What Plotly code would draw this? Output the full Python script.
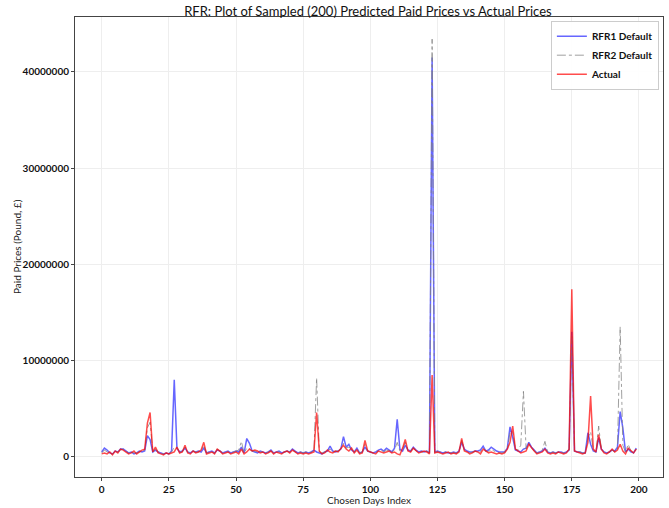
import plotly.graph_objects as go

idx = list(range(200))

# values in millions of pounds
actual_m = [
    0.3, 0.4, 0.3, 0.5, 0.2, 0.6, 0.4, 0.8, 0.7, 0.5,
    0.3, 0.4, 0.6, 0.3, 0.5, 0.7, 0.8, 3.5, 4.6, 0.5,
    1.0, 0.4, 0.3, 0.2, 0.4, 0.3, 0.4, 0.5, 1.0, 0.4,
    0.5, 1.2, 0.4, 0.3, 0.6, 0.4, 0.5, 0.7, 1.5, 0.3,
    0.4, 0.5, 0.3, 0.8, 0.6, 0.3, 0.4, 0.5, 0.3, 0.4,
    0.5, 0.3, 0.8, 0.3, 0.5, 0.8, 0.6, 0.7, 0.6, 0.4,
    0.5, 0.3, 0.4, 0.6, 0.3, 0.5, 0.4, 0.3, 0.5, 0.6,
    0.4, 0.7, 0.5, 0.3, 0.4, 0.3, 0.4, 0.3, 0.4, 0.5,
    4.6, 0.6, 0.3, 0.4, 0.7, 0.5, 0.4, 0.6, 0.5, 0.9,
    1.2, 0.8, 0.6, 0.9, 0.4, 0.7, 0.3, 0.4, 1.7, 0.6,
    0.5, 0.4, 0.3, 0.6, 0.5, 0.4, 0.5, 0.6, 0.4, 0.5,
    0.3, 0.2, 0.9, 1.8, 0.6, 0.5, 0.9, 0.6, 0.4, 0.5,
    0.6, 0.5, 0.3, 8.5, 0.4, 0.5, 0.4, 0.3, 0.4, 0.5,
    0.3, 0.4, 0.3, 0.5, 1.9, 0.6, 0.5, 0.3, 0.4, 0.6,
    0.5, 0.3, 0.8, 0.6, 0.4, 0.5, 0.4, 0.3, 0.4, 0.3,
    0.4, 0.8, 1.5, 3.2, 0.8, 0.6, 0.4, 0.5, 0.6, 1.3,
    0.9, 0.6, 0.3, 0.4, 0.5, 0.8, 0.4, 0.3, 0.4, 0.3,
    0.5, 0.4, 0.3, 0.4, 0.8, 17.4, 0.6, 0.5, 0.4, 0.3,
    0.4, 1.5, 6.3, 0.8, 0.5, 2.3, 0.8, 0.4, 0.3, 0.5,
    0.8, 0.5, 0.7, 1.3, 0.6, 0.3, 0.9, 0.6, 0.4, 0.8,
]

rfr1_m = [
    0.5, 0.9, 0.7, 0.4, 0.3, 0.6, 0.5, 0.8, 0.8, 0.6,
    0.4, 0.5, 0.3, 0.4, 0.6, 0.5, 0.6, 2.2, 1.8, 0.5,
    0.7, 0.5, 0.4, 0.3, 0.4, 0.3, 0.6, 8.0, 0.9, 0.5,
    0.6, 0.9, 0.5, 0.4, 0.6, 0.5, 0.6, 0.5, 0.9, 0.4,
    0.5, 0.6, 0.4, 0.7, 0.6, 0.4, 0.5, 0.6, 0.4, 0.5,
    0.6, 0.5, 1.0, 0.4, 1.9, 1.4, 0.6, 0.5, 0.4, 0.6,
    0.5, 0.4, 0.5, 0.7, 0.4, 0.5, 0.6, 0.4, 0.5, 0.6,
    0.5, 0.8, 0.6, 0.4, 0.5, 0.4, 0.5, 0.4, 0.5, 0.7,
    0.5, 0.4, 0.3, 0.5, 0.6, 1.1, 0.6, 0.5, 0.6, 0.8,
    2.1, 1.0, 1.3, 0.7, 0.5, 0.9, 0.4, 0.5, 1.0, 0.6,
    0.5, 0.4, 0.5, 0.7, 0.8, 0.6, 0.9, 0.7, 0.5, 0.9,
    3.9, 0.8, 0.6, 1.2, 0.7, 0.6, 1.0, 0.7, 0.5, 0.6,
    0.5, 0.6, 0.4, 41.5, 0.5, 0.6, 0.5, 0.4, 0.5, 0.4,
    0.4, 0.5, 0.4, 0.6, 1.5, 0.8, 0.6, 0.5, 0.5, 0.6,
    0.6, 0.7, 1.1, 0.6, 0.7, 1.0, 0.8, 0.6, 0.5, 0.5,
    0.5, 0.9, 3.1, 2.0, 0.7, 0.6, 0.5, 0.8, 0.9, 1.5,
    1.0, 0.7, 0.4, 0.5, 0.6, 0.9, 0.5, 0.4, 0.5, 0.4,
    0.5, 0.5, 0.4, 0.5, 0.7, 13.0, 0.6, 0.5, 0.5, 0.4,
    0.4, 2.5, 1.3, 0.6, 0.5, 2.0, 0.8, 0.5, 0.4, 0.5,
    0.7, 0.6, 1.0, 4.7, 3.0, 0.5, 0.8, 0.5, 0.4, 0.9,
]

rfr2_m = [
    0.4, 0.7, 0.5, 0.4, 0.3, 0.6, 0.5, 0.7, 0.8, 0.6,
    0.4, 0.5, 0.4, 0.4, 0.5, 0.6, 0.7, 3.0, 3.6, 0.5,
    0.8, 0.5, 0.4, 0.3, 0.4, 0.3, 0.5, 1.0, 0.9, 0.5,
    0.5, 1.0, 0.5, 0.4, 0.6, 0.5, 0.5, 0.6, 1.2, 0.4,
    0.5, 0.5, 0.4, 0.8, 0.6, 0.4, 0.5, 0.5, 0.4, 0.5,
    0.6, 0.7, 1.6, 0.4, 0.9, 0.8, 0.6, 0.6, 0.5, 0.5,
    0.5, 0.4, 0.5, 0.6, 0.4, 0.5, 0.5, 0.4, 0.5, 0.6,
    0.5, 0.7, 0.5, 0.4, 0.5, 0.4, 0.5, 0.4, 0.5, 0.6,
    8.2, 0.5, 0.4, 0.5, 0.6, 0.8, 0.5, 0.6, 0.6, 0.8,
    1.4, 0.9, 1.0, 0.8, 0.5, 0.8, 0.4, 0.5, 1.3, 0.6,
    0.5, 0.4, 0.4, 0.6, 0.7, 0.5, 0.7, 0.6, 0.5, 0.7,
    1.5, 0.6, 0.8, 1.5, 0.7, 0.6, 0.9, 0.6, 0.5, 0.5,
    0.5, 0.6, 0.4, 43.4, 0.5, 0.5, 0.5, 0.4, 0.5, 0.4,
    0.4, 0.4, 0.4, 0.5, 1.7, 0.7, 0.5, 0.4, 0.5, 0.6,
    0.5, 0.5, 0.9, 0.6, 0.5, 0.8, 0.6, 0.5, 0.4, 0.4,
    0.5, 0.9, 2.5, 2.6, 0.8, 0.7, 1.2, 6.8, 0.8, 1.4,
    0.9, 0.6, 0.4, 0.5, 0.7, 1.6, 0.5, 0.4, 0.5, 0.4,
    0.5, 0.5, 0.4, 0.5, 0.7, 12.5, 0.6, 0.5, 0.5, 0.4,
    0.4, 2.0, 2.6, 0.7, 0.5, 3.2, 0.8, 0.5, 0.4, 0.5,
    0.7, 0.5, 0.8, 13.5, 1.2, 0.5, 1.3, 0.6, 0.4, 0.8,
]

actual = [v * 1e6 for v in actual_m]
rfr1 = [v * 1e6 for v in rfr1_m]
rfr2 = [v * 1e6 for v in rfr2_m]

x_ticks = [0, 25, 50, 75, 100, 125, 150, 175, 200]
y_ticks = [0, 10000000, 20000000, 30000000, 40000000]

FONT = "Lato, 'Open Sans', sans-serif"

fig = go.Figure()
fig.add_trace(go.Scatter(x=idx, y=rfr1, mode="lines", name="RFR1 Default",
                         line=dict(color="rgba(0,0,255,0.6)", width=1.5)))
fig.add_trace(go.Scatter(x=idx, y=rfr2, mode="lines", name="RFR2 Default",
                         line=dict(color="rgba(128,128,128,0.75)", width=1, dash="dashdot")))
fig.add_trace(go.Scatter(x=idx, y=actual, mode="lines", name="Actual",
                         line=dict(color="rgba(255,0,0,0.7)", width=1.5)))

fig.update_layout(
    width=669, height=508,
    margin=dict(l=75, r=6, t=17, b=31),
    paper_bgcolor="white", plot_bgcolor="white",
    font=dict(family=FONT, color="#222", size=10),
    title=dict(text="RFR: Plot of Sampled (200) Predicted Paid Prices vs Actual Prices",
               x=0.55, xanchor="center", y=0.986, yanchor="top",
               font=dict(size=13, family=FONT, color="#111"),
               automargin=False),
    legend=dict(x=0.993, y=0.992, xanchor="right", yanchor="top",
                bgcolor="rgba(255,255,255,0.9)", bordercolor="#ccc", borderwidth=1,
                font=dict(size=10, family=FONT, weight="bold", color="#111"),
                tracegroupgap=0),
    showlegend=True,
    annotations=[
        dict(text="Paid Prices (Pound, £)", xref="paper", yref="paper",
             x=0, y=0.5, xshift=-58, textangle=-90, showarrow=False,
             xanchor="center", yanchor="middle",
             font=dict(size=10, family=FONT, color="#222")),
        dict(text="Chosen Days Index", xref="paper", yref="paper",
             x=0.5, y=0, yshift=-23, showarrow=False,
             xanchor="center", yanchor="middle",
             font=dict(size=10, family=FONT, color="#222")),
    ],
)
fig.update_xaxes(range=[-9.95, 208.95], tickvals=x_ticks, automargin=False,
                 showgrid=True, gridcolor="#eeeeee", gridwidth=1,
                 showline=True, linecolor="#444", linewidth=1, mirror=True,
                 ticks="outside", ticklen=3, tickcolor="#444",
                 zeroline=False,
                 tickfont=dict(size=10, family=FONT, weight="bold", color="#111"))
fig.update_yaxes(range=[-2.1e6, 45.7e6], tickvals=y_ticks, tickformat="d", automargin=False,
                 showgrid=True, gridcolor="#eeeeee", gridwidth=1,
                 showline=True, linecolor="#444", linewidth=1, mirror=True,
                 ticks="outside", ticklen=3, tickcolor="#444",
                 zeroline=False,
                 tickfont=dict(size=10, family=FONT, weight="bold", color="#111"))

fig.write_html("out.html", config={"displayModeBar": False},
               post_script="document.body.style.margin='0';document.body.style.padding='0';")
